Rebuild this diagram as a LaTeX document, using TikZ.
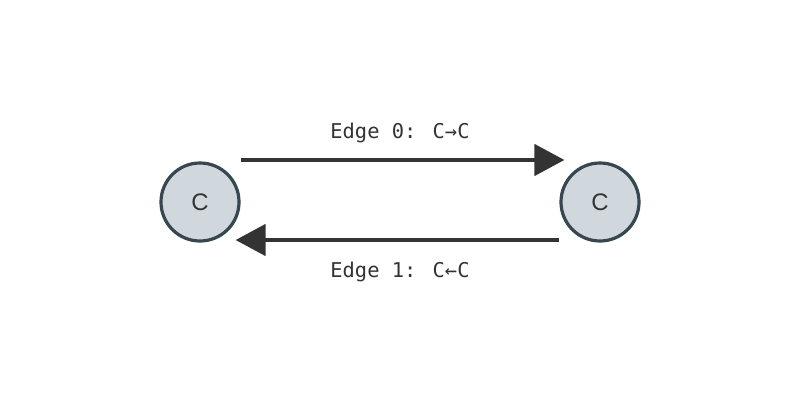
\documentclass[tikz,border=0pt]{standalone}
\usepackage{fontspec}
\setmainfont{Liberation Sans}
\newfontfamily\monof{DejaVu Sans Mono}
\usetikzlibrary{arrows.meta}
\definecolor{nodefill}{HTML}{D0D8DE}
\definecolor{nodeedge}{HTML}{37474F}
\definecolor{arrc}{HTML}{333333}
\tikzset{
  vert/.style={circle,draw=nodeedge,fill=nodefill,line width=0.08cm,minimum size=1.95cm,inner sep=0pt,font=\fontsize{17}{17}\selectfont,text=arrc},
  arr/.style={draw=arrc,line width=0.1cm,-{Triangle[length=0.75cm,width=0.78cm]}},
  lab/.style={font=\monof\fontsize{14.5}{14.5}\selectfont,text=arrc}
}
\begin{document}
\begin{tikzpicture}[x=0.025cm,y=-0.025cm]
\useasboundingbox[fill=white] (0,0) rectangle (800,400);
\node[vert] (a) at (200,202) {C};
\node[vert] (b) at (600,202) {C};
\draw[arr] ([yshift=1.05cm,xshift=0.0cm]a.east) -- ([yshift=1.05cm,xshift=0.125cm]b.west);
\draw[arr] ([yshift=-0.95cm]b.west) -- ([yshift=-0.95cm,xshift=-0.125cm]a.east);
\node[lab] (l0) at (400,133) {Edge 0: C→C};
\node[lab] (l1) at (400,272) {Edge 1: C←C};
\end{tikzpicture}
\end{document}
